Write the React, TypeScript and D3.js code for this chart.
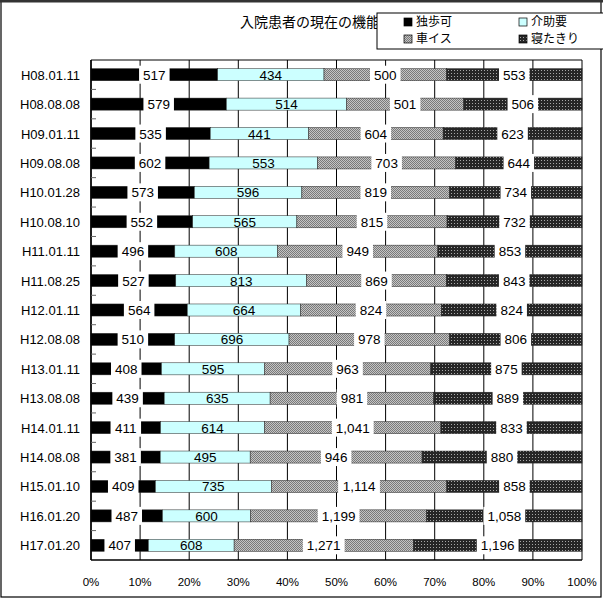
import React from "react";
import * as d3 from "d3";

const categories = [
  "H08.01.11", "H08.08.08", "H09.01.11", "H09.08.08", "H10.01.28", "H10.08.10",
  "H11.01.11", "H11.08.25", "H12.01.11", "H12.08.08", "H13.01.11", "H13.08.08",
  "H14.01.11", "H14.08.08", "H15.01.10", "H16.01.20", "H17.01.20",
];
const seriesNames = ["独歩可", "介助要", "車イス", "寝たきり"];
const dokuho = [517, 579, 535, 602, 573, 552, 496, 527, 564, 510, 408, 439, 411, 381, 409, 487, 407];
const kaijo = [434, 514, 441, 553, 596, 565, 608, 813, 664, 696, 595, 635, 614, 495, 735, 600, 608];
const kurumaisu = [500, 501, 604, 703, 819, 815, 949, 869, 824, 978, 963, 981, 1041, 946, 1114, 1199, 1271];
const netakiri = [553, 506, 623, 644, 734, 732, 853, 843, 824, 806, 875, 889, 833, 880, 858, 1058, 1196];
const xTicks = [0, 0.1, 0.2, 0.3, 0.4, 0.5, 0.6, 0.7, 0.8, 0.9, 1.0];
const title = "入院患者の現在の機能";

const W = 603, H = 603;
const plot = { left: 91, right: 582, top: 60, bottom: 560 };
const fills = ["#000000", "#ccffff", "url(#patKuruma)", "url(#patNetakiri)"];
const FONT = "Arial, 'Liberation Sans', sans-serif";
const JFONT = "'Noto Sans CJK JP', sans-serif";

function textW(s: string, size: number) {
  let w = 0;
  for (const c of s) w += c === "," || c === "." ? 0.278 : 0.556;
  return w * size;
}

export default function App() {
  const series = [dokuho, kaijo, kurumaisu, netakiri];
  const rows = categories.map((c, i) => {
    const r: any = { cat: c };
    seriesNames.forEach((n, k) => (r[n] = series[k][i]));
    return r;
  });
  const stack = d3.stack<any>().keys(seriesNames).offset(d3.stackOffsetExpand)(rows);
  const x = d3.scaleLinear().domain([0, 1]).range([plot.left, plot.right]);
  const y = d3.scaleBand().domain(categories).range([plot.top, plot.bottom]).paddingInner(0.59).paddingOuter(0.295);
  const step = y.step();
  const fmt = d3.format(",");
  const pct = d3.format(".0%");

  return (
    <svg width={W} height={H} style={{ position: "absolute", left: 0, top: 0, background: "#fff" }}>
      <defs>
        <pattern id="patKuruma" width="2" height="2" patternUnits="userSpaceOnUse">
          <rect width="2" height="2" fill="#c4c4c4" />
          <rect width="1" height="1" fill="#7a7a7a" />
          <rect x="1" y="1" width="1" height="1" fill="#7a7a7a" />
        </pattern>
        <pattern id="patNetakiri" width="3" height="3" patternUnits="userSpaceOnUse">
          <rect width="3" height="3" fill="#262626" />
          <rect x="1" y="1" width="1" height="1" fill="#a8a8a8" />
        </pattern>
      </defs>
      <rect x={1} y={1} width={600} height={596} fill="#fff" stroke="#000" strokeWidth={1.2} />
      <line x1={0} x2={603} y1={1} y2={1} stroke="#333" strokeWidth={3} />

      {/* title */}
      <text x={240} y={27} fontFamily={JFONT} fontSize={14} fill="#000">{title}</text>

      {/* gridlines */}
      {xTicks.map((t) => (
        <line key={t} x1={x(t)} x2={x(t)} y1={plot.top} y2={plot.bottom} stroke="#000" strokeWidth={1} />
      ))}
      <line x1={plot.left} x2={plot.right} y1={plot.top} y2={plot.top} stroke="#000" strokeWidth={1} />

      {/* bars */}
      {stack.map((s, k) => (
        <g key={k}>
          {s.map((d: any, i: number) => (
            <rect key={i} x={x(d[0])} y={y(categories[i])!} width={x(d[1]) - x(d[0])} height={y.bandwidth()}
              fill={fills[k]} stroke="#222" strokeWidth={0.5} />
          ))}
        </g>
      ))}

      {/* labels */}
      {stack.map((s, k) => (
        <g key={"l" + k}>
          {s.map((d: any, i: number) => {
            const v = series[k][i];
            const txt = fmt(v);
            const cx = (x(d[0]) + x(d[1])) / 2;
            const cy = y(categories[i])! + y.bandwidth() / 2;
            const tw = textW(txt, 13.5);
            return (
              <g key={i}>
                {k !== 1 && <rect x={cx - tw / 2 - 4} y={cy - 9} width={tw + 8} height={18} fill="#fff" />}
                <text x={cx} y={cy + 5} textAnchor="middle" fontFamily={FONT} fontSize={13.5} fill="#000">{txt}</text>
              </g>
            );
          })}
        </g>
      ))}

      {/* axes */}
      <line x1={plot.left} x2={plot.left} y1={plot.top} y2={plot.bottom} stroke="#000" strokeWidth={1.5} />
      <line x1={plot.left} x2={plot.right} y1={plot.bottom} y2={plot.bottom} stroke="#000" strokeWidth={1.5} />
      {categories.slice(1).map((c) => (
        <line key={c} x1={plot.left} x2={plot.left + 5} y1={y(c)! - (step - y.bandwidth()) / 2} y2={y(c)! - (step - y.bandwidth()) / 2} stroke="#666" strokeWidth={1} />
      ))}
      {categories.map((c) => (
        <text key={c} x={80} y={y(c)! + y.bandwidth() / 2 + 5} textAnchor="end" fontFamily={FONT} fontSize={13} fill="#000">{c}</text>
      ))}
      {xTicks.map((t) => (
        <text key={t} x={x(t)} y={586} textAnchor="middle" fontFamily={FONT} fontSize={11.5} fill="#000">{pct(t)}</text>
      ))}

      {/* legend */}
      <rect x={377} y={13} width={240} height={36} fill="#fff" stroke="#000" strokeWidth={1} />
      {seriesNames.map((n, k) => {
        const lx = k % 2 === 0 ? 404 : 519;
        const ly = k < 2 ? 22 : 39;
        return (
          <g key={n}>
            <rect x={lx} y={ly - 4} width={8} height={8} fill={fills[k]} stroke="#000" strokeWidth={0.7} />
            <text x={lx + 12} y={ly + 4} fontFamily={JFONT} fontSize={12} fill="#000">{n}</text>
          </g>
        );
      })}
    </svg>
  );
}
